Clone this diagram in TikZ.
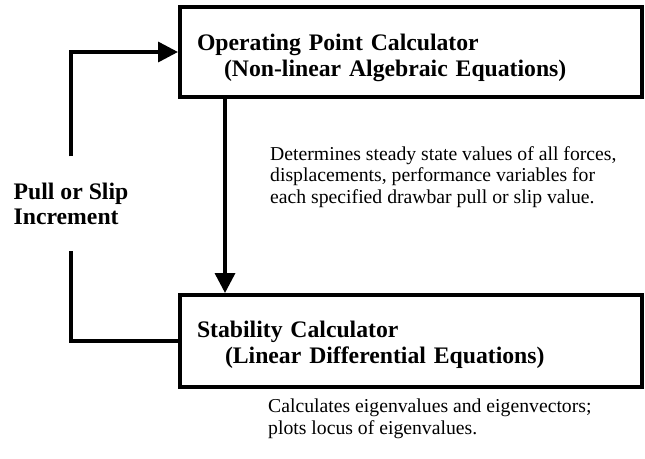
\documentclass[tikz,border=0pt]{standalone}
\usepackage{fontspec}
\setmainfont{Liberation Serif}
\usetikzlibrary{arrows.meta}
\begin{document}
\begin{tikzpicture}[x=1pt,y=-1pt,
  box/.style={draw, line width=4pt, minimum height=90pt, text width=428pt,
    inner xsep=17pt, inner ysep=0pt, align=left,
    font=\fontsize{23.7}{26}\selectfont\bfseries},
  desc/.style={anchor=base west, align=left, inner sep=0pt,
    font=\fontsize{19.7}{21.7}\selectfont},
  conn/.style={line width=3.5pt},
  arr/.style={conn, -{Triangle[length=20pt,width=20pt]}}]
\useasboundingbox (0,0) rectangle (645,458);

\node[box] (op) at (411,52)
  {\rule{0pt}{28.6pt}Operating Point Calculator\\\hspace*{27pt}(Non-linear Algebraic Equations)};
\node[box, minimum height=92pt] (st) at (411,341)
  {\rule{0pt}{23.2pt}Stability Calculator\\\hspace*{28pt}(Linear Differential Equations)};

% base anchor of a multi-line node = baseline of its last line
\node[desc] (d1) at (270,203.5)
  {Determines steady state values of all forces,\\displacements, performance variables for\\each specified drawbar pull or slip value.};
\node[desc] (d2) at (268,434)
  {Calculates eigenvalues and eigenvectors;\\plots locus of eigenvalues.};

\node[align=left, inner xsep=0pt, inner ysep=26pt,
  font=\fontsize{23.7}{25}\selectfont\bfseries] (inc) at (71,203.5)
  {Pull or Slip\\Increment};

\coordinate (ax) at (225,0);
\draw[arr] (op.south -| ax) -- (st.north -| ax);
\draw[conn] (st.west) -| (inc.south);
\draw[arr] (inc.north) |- (op.west);
\end{tikzpicture}
\end{document}
